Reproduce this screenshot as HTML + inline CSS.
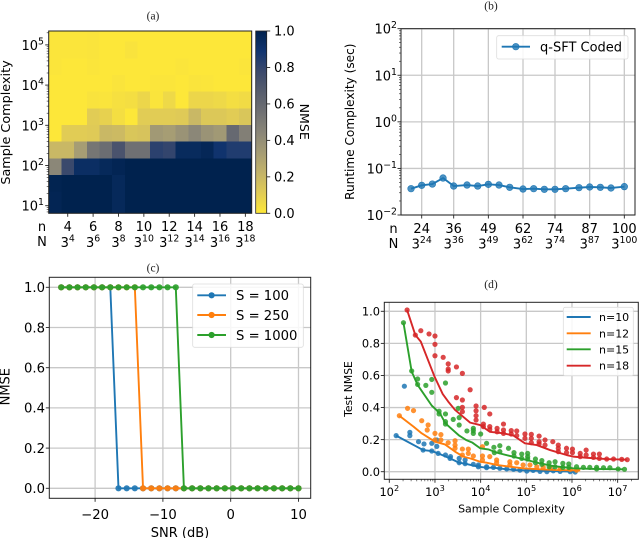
<!DOCTYPE html>
<html>
<head>
<meta charset="utf-8">
<style>
html,body{margin:0;padding:0;background:#fff;width:640px;height:538px;overflow:hidden}
svg{display:block;filter:blur(0.3px)}
text{font-family:"DejaVu Sans","Liberation Sans",sans-serif;fill:#000}
.ttl{font-family:"Liberation Serif",serif;font-size:11.5px;fill:#222}
</style>
</head>
<body>
<svg id="fig" width="640" height="538" viewBox="0 0 640 538" xmlns="http://www.w3.org/2000/svg">
  <defs>
    <clipPath id="clipC"><rect x="49.3" y="277.3" width="261.4" height="221"/></clipPath>
    <clipPath id="clipD"><rect x="384.3" y="302.3" width="254" height="177"/></clipPath>
  </defs>
  <text class="ttl" x="153" y="19.5" text-anchor="middle">(a)</text>
  <text class="ttl" x="491" y="9.5" text-anchor="middle">(b)</text>
  <text class="ttl" x="153" y="271.5" text-anchor="middle">(c)</text>
  <text class="ttl" x="491" y="288" text-anchor="middle">(d)</text>
</svg>
<script>
// ---------- Panel (a) data ----------
const heatN = [3,4,5,6,7,8,9,10,11,12,13,14,15,16,17,18];
// log10(sample complexity) row boundaries, bottom to top
const heatEdges = [.81,.935,1.35,1.764,2.179,2.593,3.008,3.423,3.837,4.252,4.667,5.081,5.347];
// rows listed top to bottom
const heatRows = [
 [.01,.01,.01,.015,.005,.005,.005,.005,.005,.005,.005,.005,.005,.005,.005,.005],
 [.01,.01,.01,.015,.005,.005,.02,.005,.005,.005,.005,.005,.005,.005,.005,.005],
 [.01,.005,.005,.01,.005,.005,.005,.005,.005,.005,.01,.005,.005,.005,.005,.01],
 [.005,.005,.005,.005,.005,.015,.005,.005,.01,.01,.005,.015,.01,.005,.005,.005],
 [.005,.005,.005,.02,.015,.03,.04,.07,.015,.06,.005,.07,.07,.06,.04,.05],
 [.005,.005,.003,.11,.09,.04,.003,.11,.11,.11,.12,.2,.13,.13,.11,.14],
 [.003,.11,.11,.12,.2,.19,.14,.15,.35,.33,.38,.44,.38,.35,.6,.48],
 [.2,.2,.33,.53,.58,.72,.56,.56,.82,.8,.95,.95,.97,.9,.85,.85],
 [.44,.78,.93,.93,.96,.98,1,1,1,1,1,1,1,1,1,1],
 [.99,1,1,1,1,.96,1,1,1,1,1,1,1,1,1,1],
 [.98,1,1,1,1,.96,1,1,1,1,1,1,1,1,1,1],
 [.98,1,1,1,1,.96,1,1,1,1,1,1,1,1,1,1]
];
const heatXTicks = [4,6,8,10,12,14,16,18];
const heatYTicks = [1,2,3,4,5];
const cbarTicks = [0,0.2,0.4,0.6,0.8,1.0];
const cividis = ["#00224e","#123570","#3b496c","#575d6d","#707173","#8a8678","#a59c74","#c3b369","#e1cc55","#fee838"];

// ---------- Panel (b) data ----------
const runtimeN = [20,24,28,32,36,41,45,49,53,57,62,66,70,74,78,83,87,91,95,100];
const runtimeSec = [.0367,.0434,.0462,.0622,.0419,.044,.0419,.0455,.044,.0393,.0361,.0367,.0356,.0356,.0367,.0386,.0399,.0393,.038,.0406];
const runtimeXTicks = [24,36,49,62,74,87,100];
const runtimeYTicks = [-2,-1,0,1,2];

// ---------- Panel (c) data ----------
const snrDb = [-25,-23.79,-22.59,-21.38,-20.17,-18.97,-17.76,-16.55,-15.34,-14.14,-12.93,-11.72,-10.52,-9.31,-8.1,-6.9,-5.69,-4.48,-3.28,-2.07,-.86,.34,1.55,2.76,3.97,5.17,6.38,7.59,8.79,10];
const nmseS100  = [1,1,1,1,1,1,1,0,0,0,0,0,0,0,0,0,0,0,0,0,0,0,0,0,0,0,0,0,0,0];
const nmseS250  = [1,1,1,1,1,1,1,1,1,1,0,0,0,0,0,0,0,0,0,0,0,0,0,0,0,0,0,0,0,0];
const nmseS1000 = [1,1,1,1,1,1,1,1,1,1,1,1,1,1,1,0,0,0,0,0,0,0,0,0,0,0,0,0,0,0];
const snrXTicks = [-20,-10,0,10];
const nmseYTicks = [0,0.2,0.4,0.6,0.8,1.0];

// ---------- Panel (d) data: [log10(samples), test NMSE] ----------
const lineN10 = [[2.15,.225],[2.74,.135],[2.93,.129],[3.07,.114],[3.33,.083],[3.53,.056],[3.66,.05],[3.95,.031],[4.13,.025],[4.28,.025],[4.57,.015],[4.75,.01],[5.01,.008],[5.3,.006],[5.59,.004],[6.07,0]];
const lineN12 = [[2.22,.349],[2.53,.281],[2.71,.239],[3.0,.187],[3.22,.17],[3.44,.125],[3.62,.094],[3.77,.083],[3.99,.062],[4.13,.056],[4.35,.042],[4.64,.031],[4.93,.021],[5.3,.015],[5.66,.01],[6.18,.008]];
const lineN15 = [[2.31,.929],[2.49,.624],[2.62,.541],[2.93,.412],[3.11,.364],[3.23,.301],[3.53,.225],[3.68,.198],[3.82,.181],[3.99,.146],[4.17,.139],[4.35,.119],[4.64,.098],[5.01,.073],[5.3,.052],[5.59,.035],[6.03,.021],[6.47,.017],[7.12,.015]];
const lineN18 = [[2.39,1.008],[2.57,.852],[2.69,.811],[2.99,.593],[3.17,.484],[3.29,.437],[3.44,.385],[3.77,.306],[3.99,.291],[4.2,.249],[4.5,.239],[4.72,.225],[4.97,.177],[5.23,.166],[5.52,.135],[5.88,.104],[6.03,.094],[6.32,.087],[6.76,.079],[7.2,.075]];
const dotsN10 = [[2.33,.533],[2.15,.225],[2.45,.245],[2.45,.225],[2.64,.187],[2.76,.173],[2.93,.177],[3.04,.198],[3.04,.158],[2.74,.135],[2.93,.129],[3.07,.114],[3.23,.104],[3.34,.094],[3.33,.083],[3.53,.083],[3.53,.056],[3.66,.073],[3.66,.05],[3.84,.046],[3.95,.042],[3.95,.031],[4.13,.031],[4.13,.025],[4.28,.027],[4.42,.021],[4.57,.017],[4.72,.015],[4.86,.01],[5.01,.004],[5.15,.008],[5.3,.002],[5.45,0],[5.59,.006],[5.74,.002],[5.96,0],[6.07,-.002]];
const dotsN12 = [[2.22,.349],[2.4,.395],[2.53,.381],[2.71,.318],[2.85,.291],[2.83,.26],[3.0,.239],[3.0,.198],[3.13,.231],[3.13,.198],[3.29,.181],[3.44,.193],[3.44,.166],[3.44,.146],[3.6,.141],[3.73,.141],[3.6,.104],[3.73,.114],[3.84,.098],[4.04,.156],[4.04,.098],[4.04,.073],[4.2,.094],[4.35,.073],[4.35,.056],[4.64,.062],[4.64,.042],[4.79,.056],[4.93,.042],[5.08,.042],[5.23,.031],[5.37,.027],[5.52,.025],[5.74,.017],[5.96,.015],[6.1,.01]];
const dotsN15 = [[2.31,.929],[2.49,.628],[2.62,.578],[2.62,.544],[2.8,.538],[2.93,.575],[2.93,.495],[3.23,.553],[3.09,.377],[3.09,.36],[3.23,.36],[3.23,.312],[3.23,.297],[3.4,.326],[3.51,.395],[3.53,.337],[3.53,.291],[3.7,.254],[3.84,.27],[3.84,.256],[3.84,.239],[4.0,.235],[4.13,.177],[4.29,.152],[4.42,.162],[4.42,.125],[4.3,.119],[4.61,.146],[4.73,.119],[4.73,.098],[4.9,.11],[4.9,.083],[5.03,.114],[5.03,.094],[5.03,.079],[5.2,.079],[5.2,.056],[5.34,.069],[5.34,.046],[5.5,.056],[5.5,.031],[5.63,.062],[5.63,.031],[5.8,.052],[5.8,.027],[5.93,.048],[5.93,.027],[6.1,.031],[6.25,.027],[6.39,.027],[6.54,.027],[6.54,.017],[6.69,.025],[6.83,.025],[7.01,.017],[7.15,.015]];
const dotsN18 = [[2.39,1.008],[2.57,.852],[2.69,.879],[2.87,.859],[3.0,.846],[3.0,.794],[3.0,.723],[3.18,.713],[3.29,.672],[3.29,.64],[3.29,.628],[3.47,.653],[3.6,.613],[3.77,.511],[3.47,.462],[3.6,.447],[3.6,.401],[3.6,.374],[3.9,.41],[3.9,.38],[3.9,.349],[3.9,.322],[4.08,.401],[4.2,.36],[4.06,.297],[4.06,.281],[4.2,.281],[4.2,.264],[4.36,.27],[4.36,.249],[4.5,.297],[4.5,.26],[4.5,.239],[4.67,.256],[4.67,.235],[4.79,.254],[4.79,.225],[4.97,.235],[4.97,.208],[5.11,.233],[5.11,.208],[5.11,.181],[5.28,.222],[5.28,.187],[5.28,.173],[5.41,.198],[5.41,.166],[5.58,.187],[5.7,.166],[5.7,.146],[5.7,.125],[5.88,.146],[5.88,.119],[6.01,.141],[6.01,.119],[6.18,.114],[6.18,.094],[6.31,.135],[6.31,.104],[6.47,.11],[6.47,.089],[6.6,.11],[6.6,.083],[6.76,.079],[6.91,.079],[7.09,.077],[7.21,.075]];
const sampleXTicks = [2,3,4,5,6,7];
const testYTicks = [0,0.2,0.4,0.6,0.8,1.0];

// ---------- Helpers ----------
const fig = document.getElementById('fig');
const NS = 'http://www.w3.org/2000/svg';
const BLUE='#1f77b4', ORANGE='#ff7f0e', GREEN='#2ca02c', RED='#d62728', GRID='#c8c8c8', AX='#222222';
function mk(tag, attrs, name, interact){
  const el = document.createElementNS(NS, tag);
  for (const k in attrs) el.setAttribute(k, attrs[k]);
  
  
  return el;
}
function add(tag, attrs, name, parent, interact){
  const el = mk(tag, attrs, name, interact);
  (parent || fig).appendChild(el);
  return el;
}
function txt(x, y, base, sup, size, anchor, name, rot){
  const attrs = {x:x, y:y, 'font-size':size, 'text-anchor':anchor||'middle'};
  if (rot !== undefined) attrs.transform = 'rotate(' + rot + ' ' + x + ' ' + y + ')';
  const t = add('text', attrs, name);
  t.appendChild(document.createTextNode(base));
  if (sup !== null && sup !== undefined){
    const s = document.createElementNS(NS, 'tspan');
    s.setAttribute('dy', -size*0.42);
    s.setAttribute('font-size', size*0.72);
    s.textContent = sup;
    t.appendChild(s);
  }
  return t;
}
function tick(x1, y1, x2, y2, name, w){
  add('line', {x1:x1, y1:y1, x2:x2, y2:y2, stroke:AX, 'stroke-width':w||0.9}, name);
}
function gridLine(x1, y1, x2, y2, name, parent){
  add('line', {x1:x1, y1:y1, x2:x2, y2:y2, stroke:GRID, 'stroke-width':1.3}, name, parent);
}
function frame(x, y, w, h, name){
  add('rect', {x:x, y:y, width:w, height:h, fill:'none', stroke:AX, 'stroke-width':1}, name);
}
function polyline(pts, color, name, parent, w){
  add('polyline', {points:pts.map(p => p[0].toFixed(2)+','+p[1].toFixed(2)).join(' '), fill:'none', stroke:color, 'stroke-width':w||1.9, 'stroke-linejoin':'round'}, name, parent);
}
function dot(x, y, r, color, name, parent, op){
  add('circle', {cx:x.toFixed(2), cy:y.toFixed(2), r:r, fill:color, 'fill-opacity':op||1}, name, parent);
}
function legendBox(x, y, w, h, name){
  add('rect', {x:x, y:y, width:w, height:h, rx:2, fill:'#fff', 'fill-opacity':0.85, stroke:'#dddddd', 'stroke-width':0.8}, name);
}
function civ(v){
  const t = Math.max(0, Math.min(1, 1 - v)) * (cividis.length - 1);
  const i = Math.min(cividis.length - 2, Math.floor(t)), f = t - i;
  const a = cividis[i], b = cividis[i+1];
  const ch = s => [1,3,5].map(j => parseInt(s.substr(j,2),16));
  const A = ch(a), B = ch(b);
  return 'rgb(' + A.map((c,j) => Math.round(c + (B[j]-c)*f)).join(',') + ')';
}
const minorLogs = [2,3,4,5,6,7,8,9].map(m => Math.log10(m));

// ---------- Panel (a) ----------
(function(){
  const L=48.7, R=251.7, T=31, B=213.3;
  const cw=(R-L)/heatN.length;
  const xCol = n => L + (heatN.indexOf(n)+0.5)*cw;
  const yLog = lg => 205.7 - (lg-1)*40.2;
  const g = add('g', {'shape-rendering':'crispEdges'}, 'heatmap');
  const nRows = heatRows.length;
  heatRows.forEach((row, r) => row.forEach((v, c) => {
    const top = yLog(heatEdges[nRows-r]);
    const bot = yLog(heatEdges[nRows-r-1]);
    add('rect', {x:L+c*cw, y:top, width:cw+0.3, height:bot-top+0.3, fill:civ(v)}, 'heatmap-cell', g);
  }));
  frame(L, T, R-L, B-T, 'heatmap-frame');
  heatXTicks.forEach(n => {
    const x = xCol(n);
    tick(x, B, x, B+3.5, 'x-tick');
    txt(x, 231, String(n), null, 13, 'middle', 'x-tick-label-n');
    txt(x, 247, '3', String(n), 13, 'middle', 'x-tick-label-N');
  });
  txt(42, 231, 'n', null, 13, 'middle', 'n-row-label');
  txt(42, 246, 'N', null, 13, 'middle', 'N-row-label');
  heatYTicks.forEach(lg => {
    const y = yLog(lg);
    tick(L-3.5, y, L, y, 'y-tick');
    txt(44, y+5, '10', String(lg), 13, 'end', 'y-tick-label');
  });
  [0,1,2,3,4,5].forEach(lg => minorLogs.forEach(m => {
    const y = yLog(lg+m);
    if (y > T && y < B) tick(L-2, y, L, y, 'y-minor-tick', 0.6);
  }));
  txt(10, 122.5, 'Sample Complexity', null, 12.8, 'middle', 'y-axis-title', -90);
  // colour bar
  const cbL=255.7, cbR=266.7;
  const grad = mk('linearGradient', {id:'cbarGrad', x1:0, y1:1, x2:0, y2:0}, 'colorbar-gradient');
  cividis.slice().reverse().forEach((c,i) => {
    const s = document.createElementNS(NS, 'stop');
    s.setAttribute('offset', i/(cividis.length-1));
    s.setAttribute('stop-color', c);
    grad.appendChild(s);
  });
  fig.querySelector('defs').appendChild(grad);
  add('rect', {x:cbL, y:T, width:cbR-cbL, height:B-T, fill:'url(#cbarGrad)', stroke:AX, 'stroke-width':0.8}, 'colorbar');
  cbarTicks.forEach(v => {
    const y = B - v*(B-T);
    tick(cbR, y, cbR+3.5, y, 'colorbar-tick');
    txt(274, y+4.7, v.toFixed(1), null, 13, 'start', 'colorbar-tick-label');
  });
  txt(300, 121.7, 'NMSE', null, 12.6, 'middle', 'colorbar-title', 90);
})();

// ---------- Panel (b) ----------
(function(){
  const L=401, R=635, T=28.7, B=215;
  const xN = n => 421.7 + (n-24)*2.666;
  const yLog = lg => 215 - (lg+2)*46.58;
  const g = add('g', {}, 'runtime-grid');
  runtimeXTicks.forEach(n => gridLine(xN(n), T, xN(n), B, 'vertical-gridline', g));
  runtimeYTicks.forEach(lg => gridLine(L, yLog(lg), R, yLog(lg), 'horizontal-gridline', g));
  frame(L, T, R-L, B-T, 'runtime-axes-frame');
  runtimeXTicks.forEach(n => {
    tick(xN(n), B, xN(n), B+3.5, 'x-tick');
    txt(xN(n), 233, String(n), null, 13, 'middle', 'x-tick-label-n');
    txt(xN(n), 248.5, '3', String(n), 13, 'middle', 'x-tick-label-N');
  });
  txt(393.5, 233, 'n', null, 13, 'middle', 'n-row-label');
  txt(393.5, 248, 'N', null, 13, 'middle', 'N-row-label');
  runtimeYTicks.forEach(lg => {
    const y = yLog(lg);
    tick(L-3.5, y, L, y, 'y-tick');
    const sup = lg < 0 ? '\u2212' + Math.abs(lg) : String(lg);
    txt(397, y+5, '10', sup, 13, 'end', 'y-tick-label');
  });
  [-2,-1,0,1].forEach(lg => minorLogs.forEach(m => tick(L-2, yLog(lg+m), L, yLog(lg+m), 'y-minor-tick', 0.6)));
  txt(354, 121.7, 'Runtime Complexity (sec)', null, 12.1, 'middle', 'y-axis-title', -90);
  const pts = runtimeN.map((n,i) => [xN(n), yLog(Math.log10(runtimeSec[i]))]);
  polyline(pts, BLUE, 'runtime-line', null, 1.9);
  pts.forEach(p => {
    add('circle', {cx:p[0].toFixed(2), cy:p[1].toFixed(2), r:3.3, fill:BLUE, 'fill-opacity':0.8, stroke:BLUE, 'stroke-width':0.6}, 'runtime-point');
  });
  legendBox(496.7, 35.7, 131.3, 23.3, 'legend');
  add('line', {x1:501.7, y1:46.7, x2:530, y2:46.7, stroke:BLUE, 'stroke-width':1.9}, 'legend-line-q-sft');
  add('circle', {cx:515.8, cy:46.7, r:3.3, fill:BLUE, 'fill-opacity':0.8, stroke:BLUE, 'stroke-width':0.6}, 'legend-marker-q-sft');
  txt(540, 51.3, 'q-SFT Coded', null, 13, 'start', 'legend-entry-q-sft');
})();

// ---------- Panel (c) ----------
(function(){
  const L=49.3, R=310.7, T=277.3, B=498.3;
  const xS = s => 230.7 + s*6.78;
  const yV = v => 488.3 - v*201;
  const g = add('g', {}, 'snr-grid');
  snrXTicks.forEach(s => gridLine(xS(s), T, xS(s), B, 'vertical-gridline', g));
  nmseYTicks.forEach(v => gridLine(L, yV(v), R, yV(v), 'horizontal-gridline', g));
  frame(L, T, R-L, B-T, 'snr-axes-frame');
  snrXTicks.forEach(s => {
    tick(xS(s), B, xS(s), B+3.5, 'x-tick');
    txt(xS(s), 518.8, s < 0 ? '\u2212' + Math.abs(s) : String(s), null, 13.2, 'middle', 'x-tick-label');
  });
  nmseYTicks.forEach(v => {
    tick(L-3.5, yV(v), L, yV(v), 'y-tick');
    txt(45, yV(v)+4.8, v.toFixed(1), null, 13.2, 'end', 'y-tick-label');
  });
  txt(180, 537, 'SNR (dB)', null, 13, 'middle', 'x-axis-title');
  txt(9.5, 386.7, 'NMSE', null, 13, 'middle', 'y-axis-title', -90);
  const plot = add('g', {'clip-path':'url(#clipC)'}, 'snr-series');
  [[nmseS100,BLUE,'s100'],[nmseS250,ORANGE,'s250'],[nmseS1000,GREEN,'s1000']].forEach(ser => {
    const pts = snrDb.map((s,i) => [xS(s), yV(ser[0][i])]);
    polyline(pts, ser[1], 'line-' + ser[2], plot, 1.9);
    pts.forEach(p => dot(p[0], p[1], 3.1, ser[1], 'point-' + ser[2], plot, 0.92));
  });
  legendBox(192.7, 284, 110.6, 63.3, 'legend');
  [['S = 100',BLUE,295.3],['S = 250',ORANGE,315],['S = 1000',GREEN,335]].forEach(e => {
    add('line', {x1:197.3, y1:e[2], x2:226, y2:e[2], stroke:e[1], 'stroke-width':1.9}, 'legend-line');
    dot(211.6, e[2], 3.1, e[1], 'legend-marker');
    txt(236, e[2]+4.8, e[0], null, 13.2, 'start', 'legend-entry');
  });
})();

// ---------- Panel (d) ----------
(function(){
  const L=384.3, R=638.3, T=302.3, B=479.3;
  const xLog = lg => 389.3 + (lg-2)*45.67;
  const yV = v => 471.7 - v*160.4;
  const g = add('g', {}, 'sample-grid');
  sampleXTicks.forEach(lg => gridLine(xLog(lg), T, xLog(lg), B, 'vertical-gridline', g));
  testYTicks.forEach(v => gridLine(L, yV(v), R, yV(v), 'horizontal-gridline', g));
  frame(L, T, R-L, B-T, 'sample-axes-frame');
  sampleXTicks.forEach(lg => {
    tick(xLog(lg), B, xLog(lg), B+3.5, 'x-tick');
    txt(xLog(lg), 496, '10', String(lg), 11.4, 'middle', 'x-tick-label');
  });
  [2,3,4,5,6,7].forEach(lg => minorLogs.forEach(m => {
    const x = xLog(lg+m);
    if (x < R) tick(x, B, x, B+2, 'x-minor-tick', 0.6);
  }));
  testYTicks.forEach(v => {
    tick(L-3.5, yV(v), L, yV(v), 'y-tick');
    txt(380, yV(v)+4.2, v.toFixed(1), null, 11.4, 'end', 'y-tick-label');
  });
  txt(511.5, 512.5, 'Sample Complexity', null, 11, 'middle', 'x-axis-title');
  txt(352, 389, 'Test NMSE', null, 10.8, 'middle', 'y-axis-title', -90);
  const plot = add('g', {'clip-path':'url(#clipD)'}, 'sample-series');
  [[lineN10,dotsN10,BLUE,'n10'],[lineN12,dotsN12,ORANGE,'n12'],[lineN15,dotsN15,GREEN,'n15'],[lineN18,dotsN18,RED,'n18']].forEach(ser => {
    polyline(ser[0].map(p => [xLog(p[0]), yV(p[1])]), ser[2], 'line-' + ser[3], plot, 1.9);
    ser[1].forEach(p => dot(xLog(p[0]), yV(p[1]), 2.6, ser[2], 'point-' + ser[3], plot, 0.85));
  });
  legendBox(563.3, 307.3, 70, 68.4, 'legend');
  [['n=10',BLUE,317],['n=12',ORANGE,333.3],['n=15',GREEN,349.3],['n=18',RED,365.7]].forEach(e => {
    add('line', {x1:566.7, y1:e[2], x2:590.7, y2:e[2], stroke:e[1], 'stroke-width':1.9}, 'legend-line');
    txt(599, e[2]+4, e[0], null, 11, 'start', 'legend-entry');
  });
})();
</script>
</body>
</html>
